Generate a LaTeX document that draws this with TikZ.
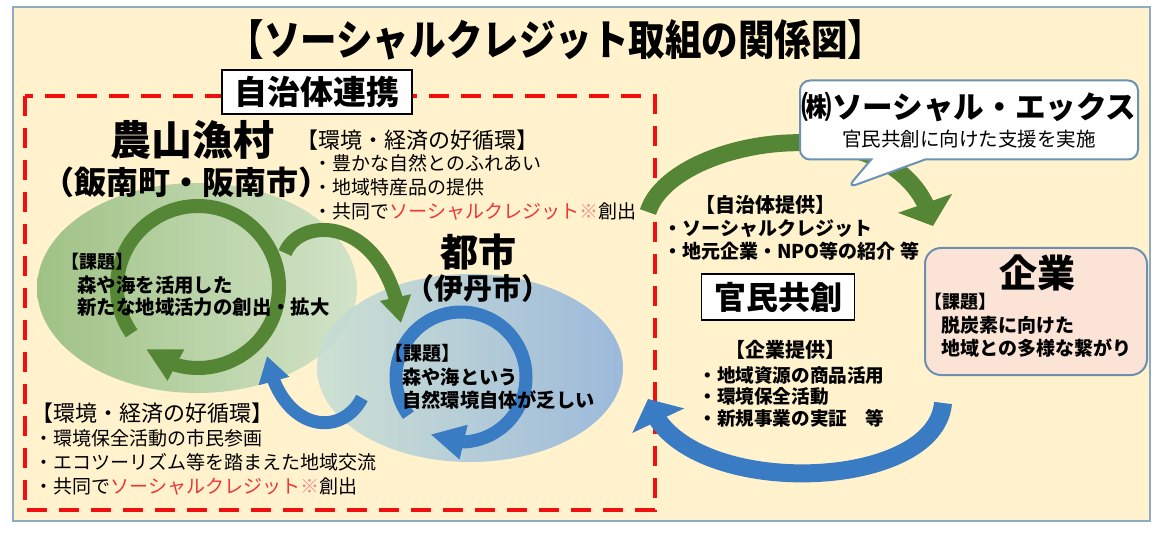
\documentclass[tikz,border=0pt]{standalone}
\usepackage{fontspec}
\setmainfont{Noto Sans CJK JP}
\newfontfamily\titlefont{Noto Sans CJK JP}[FakeStretch=0.87]
\usetikzlibrary{arrows.meta,bending,shapes.geometric,shapes.callouts,positioning}
\definecolor{cream}{HTML}{FFF2CD}
\definecolor{framecol}{HTML}{8FAAC4}
\definecolor{dashred}{HTML}{F01010}
\definecolor{greenL}{HTML}{A0C285}
\definecolor{greenR}{HTML}{D2E3C8}
\definecolor{blueL}{HTML}{C6DED5}
\definecolor{blueR}{HTML}{8BB0DE}
\definecolor{arrowgreen}{HTML}{558636}
\definecolor{arrowblue}{HTML}{3A7CC4}
\definecolor{bubbleborder}{HTML}{6A92B4}
\definecolor{kigyofill}{HTML}{FBE4D5}
\definecolor{kigyoborder}{HTML}{6F8FAF}
\definecolor{creditred}{HTML}{F03535}
\definecolor{komepink}{HTML}{F08A8A}
\newcommand{\fsz}[2]{\fontsize{#1}{#2}\selectfont}
\newcommand{\socialcredit}{\textcolor{creditred}{ソーシャルクレジット}\textcolor{komepink}{※}}

\begin{document}
\begin{tikzpicture}[x=0.5pt, y=-0.5pt,
    txt/.style={inner sep=0pt, align=left},
    boxlabel/.style={draw, fill=white, line width=0.8pt, inner sep=0pt},
    area/.style={ellipse, inner sep=0pt},
    ring/.style={line width=7pt, -{Triangle[width=16.5pt,length=17pt,flex]}},
    link/.style={line width=7pt, -{Triangle[width=15pt,length=13pt,flex]}},
    bigarrow/.style={line width=8.5pt, -{Triangle[width=28pt,length=12pt,flex]}}
  ]
  \useasboundingbox (0,0) rectangle (1161,534);
  \draw[fill=cream, draw=framecol, line width=1pt] (13,7) rectangle (1150,521);
  \node[inner sep=0pt, font=\titlefont\fsz{21}{24}\bfseries] (title) at (556,40) {【ソーシャルクレジット取組の関係図】};

  % 自治体連携
  \draw[dashred, line width=2pt, dash pattern=on 10pt off 6pt] (25,96) rectangle (655,510);
  \node[boxlabel, minimum width=95pt, minimum height=22pt, font=\fsz{16.5}{20}\bfseries] (renkei) at (317,92) {自治体連携};

  \node[area, left color=greenL, right color=greenR, minimum width=160pt, minimum height=105pt] (nousanarea) at (197,288) {};
  \node[area, left color=blueL, right color=blueR, fill opacity=0.85, minimum width=153pt, minimum height=94pt] (toshiarea) at (470,368) {};

  % 循環の矢印
  \coordinate (grc) at (198,287);
  \coordinate (brc) at (461,377);
  \draw[ring, color=arrowgreen] (grc) ++(145:81) arc[start angle=145, end angle=490, radius=81];
  \draw[ring, line width=6.5pt, color=arrowblue] (brc) ++(144:65) arc[start angle=144, end angle=478, radius=65];

  \coordinate (gfrom) at (285,253);
  \coordinate (gto) at (401,323);
  \coordinate (bfrom) at (362,398);
  \coordinate (bto) at (267,356);
  \draw[link, color=arrowgreen] (gfrom) .. controls (300,215) and (385,215) .. (gto);
  \draw[link, line width=6.5pt, color=arrowblue] (bfrom) .. controls (340,440) and (280,430) .. (bto);

  % 官民共創
  \coordinate (jichiout) at (648,212);
  \coordinate (kigyoin) at (933,226);
  \coordinate (kigyoout) at (943,403);
  \coordinate (jichiin) at (648,399);
  \draw[bigarrow, color=arrowgreen] (jichiout) .. controls (672,135) and (905,100) .. (kigyoin);
  \draw[bigarrow, line width=9pt, color=arrowblue] (kigyoout) .. controls (935,495) and (675,500) .. (jichiin);

  \node[rectangle callout, draw=bubbleborder, fill=white, line width=1pt, rounded corners=5pt,
        minimum width=169pt, minimum height=39.5pt, inner sep=0pt, align=center, font=\fsz{9.75}{14},
        callout absolute pointer={(847,188)}, callout pointer width=27pt] (sx) at (969,120)
        {{\fsz{15.3}{16}\bfseries ㈱ソーシャル・エックス}\\官民共創に向けた支援を実施};

  \node[draw=kigyoborder, fill=kigyofill, line width=1pt, rounded corners=8pt, minimum width=111pt, minimum height=63.5pt] (kigyo) at (1036,311.5) {};
  \node[txt, font=\fsz{19}{22}\bfseries] (kigyoname) at (1037,273) {企業};
  \node[txt, anchor=west, font=\fsz{9}{11}\bfseries] (kigyokadai) at (924,302) {【課題】};
  \node[txt, anchor=west, font=\fsz{9.5}{11.5}\bfseries] (kigyokadaitext) at (941,336.5) {脱炭素に向けた\\地域との多様な繋がり};

  \node[boxlabel, minimum width=76.5pt, minimum height=23pt, font=\fsz{16}{20}\bfseries] (kanmin) at (778,297) {官民共創};
  \node[txt, font=\fsz{10}{12}\bfseries] (jichiteikyo) at (765,205) {【自治体提供】};
  \node[txt, anchor=west, font=\fsz{9.5}{11.5}\bfseries] (jichilist) at (663,239.5) {・ソーシャルクレジット\\・地元企業・NPO等の紹介 等};
  \node[txt, font=\fsz{10}{12}\bfseries] (kigyoteikyo) at (785,350) {【企業提供】};
  \node[txt, anchor=west, font=\fsz{9.3}{10.75}\bfseries] (kigyolist) at (698,396.5) {・地域資源の商品活用\\・環境保全活動\\・新規事業の実証　等};

  % 農山漁村
  \node[txt, font=\fsz{20.5}{24}\bfseries] (nousan) at (192,140) {農山漁村};
  \node[txt, font=\fsz{16}{20}\bfseries] (nousansub) at (186,182) {（飯南町・阪南市）};
  \node[txt, anchor=west, font=\fsz{9}{11}\bfseries] (gkadai) at (61,262) {【課題】};
  \node[txt, anchor=west, font=\fsz{9.7}{11}\bfseries] (gkadaitext) at (77,296) {森や海を活用した\\新たな地域活力の創出・拡大};
  \node[txt, font=\fsz{11}{13}] (junkan1) at (417,140) {【環境・経済の好循環】};
  \node[txt, anchor=west, font=\fsz{9.5}{12}] (junkan1list) at (313,187) {・豊かな自然とのふれあい\\・地域特産品の提供\\・共同で\socialcredit 創出};

  % 都市
  \node[txt, font=\fsz{19}{22}\bfseries] (toshi) at (478,252) {都市};
  \node[txt, font=\fsz{14.5}{18}\bfseries] (toshisub) at (478,288) {（伊丹市）};
  \node[txt, anchor=west, font=\fsz{9.5}{11}\bfseries] (bkadai) at (384,353) {【課題】};
  \node[txt, anchor=west, font=\fsz{9.6}{11.5}\bfseries] (bkadaitext) at (402,388.5) {森や海という\\自然環境自体が乏しい};
  \node[txt, anchor=west, font=\fsz{11}{13}] (junkan2) at (31,413) {【環境・経済の好循環】};
  \node[txt, anchor=west, font=\fsz{9.5}{12}] (junkan2list) at (34,462) {・環境保全活動の市民参画\\・エコツーリズム等を踏まえた地域交流\\・共同で\socialcredit 創出};
\end{tikzpicture}
\end{document}
